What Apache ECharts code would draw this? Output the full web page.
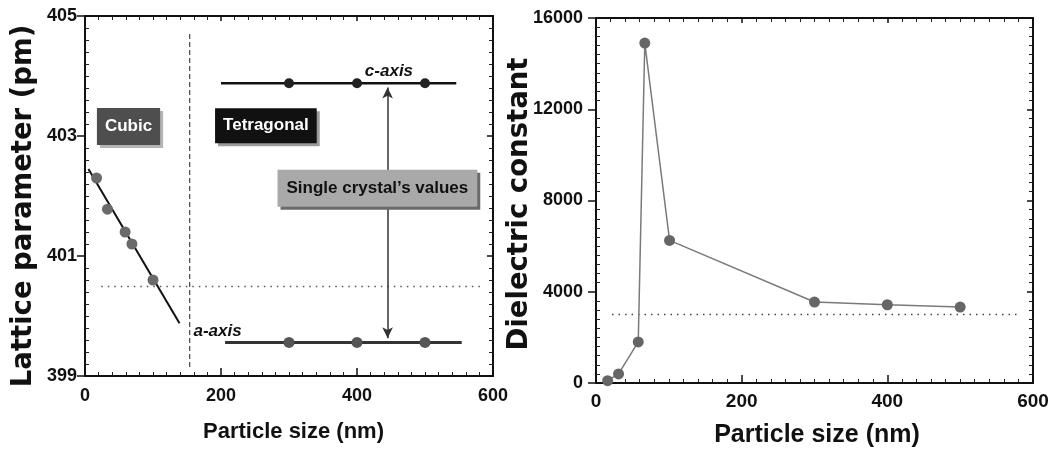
<!DOCTYPE html>
<html>
<head>
<meta charset="utf-8">
<script src="https://cdn.jsdelivr.net/npm/echarts@6/dist/echarts.min.js"></script>
<style>
html,body{margin:0;padding:0;background:#fff;}
#chart{width:1052px;height:455px;}
</style>
</head>
<body>
<div id="chart"></div>
<script>
// ---- data ----
const xTicks = [0, 200, 400, 600];
const latticeTicks = [399, 401, 403, 405];
const dielTicks = [0, 4000, 8000, 12000, 16000];

const cubicSize = [17, 33, 59, 69, 100];
const cubicLattice = [402.3, 401.78, 401.4, 401.2, 400.6];
const cubicFitSize = [5, 139];
const cubicFitLattice = [402.45, 399.88];

const tetraSize = [300, 400, 500];
const cAxisLattice = [403.88, 403.88, 403.88];
const aAxisLattice = [399.56, 399.56, 399.56];

const singleCrystalC = 403.88;
const singleCrystalA = 399.56;
const cLineSize = [200, 546];
const aLineSize = [206, 554];
const arrowSize = 445;

const phaseBoundarySize = 154;
const phaseBoundaryRange = [399.15, 404.75];
const cubicRefLattice = 400.49;
const cubicRefRange = [24, 585];

const dielSize = [16, 31, 58, 67, 101, 300, 400, 500];
const dielConst = [100, 400, 1800, 14900, 6250, 3550, 3430, 3330];
const dielRef = 3000;
const dielRefRange = [22, 580];

const boxLabels = ['Cubic', 'Tetragonal', 'Single crystal\u2019s values'];
const boxAnchorSize = [64, 266, 430];
const boxAnchorLattice = [403.16, 403.17, 402.13];
const axisLabels = ['c-axis', 'a-axis'];
const axisLabelSize = [447, 195];
const axisLabelLattice = [404.07, 399.74];

// ---- chart ----
const FS = '"Liberation Sans", Arial, sans-serif';
const FT = '"DejaVu Sans", sans-serif';

const pairs = (xs, ys) => xs.map((x, i) => [x, ys[i]]);

function xAxes(grid, labelSize, labelMargin, nameSize, nameGap, namePad) {
  return [
    {
      gridIndex: grid, type: 'value', position: 'bottom', min: xTicks[0], max: xTicks[xTicks.length - 1],
      interval: xTicks[1] - xTicks[0],
      axisLine: {show: true, onZero: false, lineStyle: {color: '#111', width: 2}},
      axisTick: {show: true, inside: true, length: 8, lineStyle: {color: '#111', width: 1.5}},
      minorTick: {show: true, splitNumber: 10, length: 4, lineStyle: {color: '#222', width: 1}},
      splitLine: {show: false},
      axisLabel: {show: true, margin: labelMargin, color: '#111', fontFamily: FS, fontWeight: 'bold', fontSize: labelSize},
      name: 'Particle size (nm)', nameLocation: 'middle', nameGap: nameGap, nameMoveOverlap: false,
      nameTextStyle: {fontFamily: FS, fontWeight: 'bold', fontSize: nameSize, color: '#111', padding: namePad}
    },
    {
      gridIndex: grid, type: 'value', position: 'top', min: xTicks[0], max: xTicks[xTicks.length - 1],
      interval: xTicks[1] - xTicks[0],
      axisLine: {show: true, onZero: false, lineStyle: {color: '#111', width: 2}},
      axisTick: {show: true, inside: true, length: 5, lineStyle: {color: '#111', width: 1.5}},
      minorTick: {show: true, splitNumber: 10, length: 4, lineStyle: {color: '#222', width: 1}},
      splitLine: {show: false}, axisLabel: {show: false}
    }
  ];
}

function yAxes(grid, ticks, labelSize, labelMargin, name, nameGap, namePad) {
  const base = {gridIndex: grid, type: 'value', min: ticks[0], max: ticks[ticks.length - 1], interval: ticks[1] - ticks[0], splitLine: {show: false}};
  return [
    Object.assign({}, base, {
      position: 'left',
      axisLine: {show: true, onZero: false, lineStyle: {color: '#111', width: 2}},
      axisTick: {show: true, inside: false, length: 8, lineStyle: {color: '#111', width: 1.5}},
      minorTick: {show: false},
      axisLabel: {show: true, margin: labelMargin, color: '#111', fontFamily: FS, fontWeight: 'bold', fontSize: labelSize,
        formatter: v => String(v)},
      name: name, nameLocation: 'middle', nameGap: nameGap, nameMoveOverlap: false,
      nameTextStyle: {fontFamily: FT, fontWeight: 'bold', fontSize: 27.5, color: '#111', padding: namePad}
    }),
    Object.assign({}, base, {
      position: 'left',
      axisLine: {show: false, onZero: false},
      axisTick: {show: false, inside: true},
      minorTick: {show: true, splitNumber: 10, length: 4, lineStyle: {color: '#222', width: 1}},
      axisLabel: {show: false}
    }),
    Object.assign({}, base, {
      position: 'right',
      axisLine: {show: true, onZero: false, lineStyle: {color: '#111', width: 2}},
      axisTick: {show: true, inside: true, length: 6, lineStyle: {color: '#111', width: 1.5}},
      minorTick: {show: true, splitNumber: 10, length: 4, lineStyle: {color: '#222', width: 1}},
      axisLabel: {show: false}
    })
  ];
}

function plainLine(data, color, width, type, xi, yi, z) {
  return {
    type: 'line', xAxisIndex: xi, yAxisIndex: yi, data: data, showSymbol: false, symbol: 'none',
    lineStyle: {color: color, width: width, type: type}, silent: true, z: z || 2
  };
}

function dots(data, color, size, xi, yi) {
  return {
    type: 'scatter', xAxisIndex: xi, yAxisIndex: yi, data: data, symbol: 'circle', symbolSize: size,
    itemStyle: {color: color, opacity: 1}, z: 5
  };
}

const boxStyles = [
  {bg: '#4e4e4e', color: '#fff', shadow: '#b5b5b5', pad: [10, 8, 10, 8]},
  {bg: '#111111', color: '#fff', shadow: '#9a9a9a', pad: [9, 8, 9, 8]},
  {bg: '#a9a9a9', color: '#111', shadow: '#6a6a6a', pad: [10, 9, 10, 9]}
];

const boxSeries = boxLabels.map((txt, i) => ({
  type: 'scatter', xAxisIndex: 0, yAxisIndex: 0, symbolSize: 0, itemStyle: {color: 'rgba(0,0,0,0)', opacity: 1},
  data: [[boxAnchorSize[i], boxAnchorLattice[i]]], z: 8, silent: true,
  label: {
    show: true, position: 'inside', formatter: txt,
    fontFamily: FS, fontWeight: 'bold', fontSize: 17, color: boxStyles[i].color,
    backgroundColor: boxStyles[i].bg, padding: boxStyles[i].pad,
    shadowColor: boxStyles[i].shadow, shadowOffsetX: 3, shadowOffsetY: 3, shadowBlur: 0
  }
}));

const axisLabelSeries = axisLabels.map((txt, i) => ({
  type: 'scatter', xAxisIndex: 0, yAxisIndex: 0, symbolSize: 0, itemStyle: {color: 'rgba(0,0,0,0)', opacity: 1},
  data: [[axisLabelSize[i], axisLabelLattice[i]]], z: 8, silent: true,
  label: {show: true, position: 'inside', formatter: txt, fontFamily: FS, fontWeight: 'bold', fontStyle: 'italic', fontSize: 17, color: '#111'}
}));

const option = {
  animation: false,
  backgroundColor: '#fff',
  grid: [
    {left: 85, top: 16, width: 408, height: 360},
    {left: 596, top: 18, width: 437, height: 365}
  ],
  xAxis: [].concat(
    xAxes(0, 18, 11, 22, 45, [0, 0, 0, 9]),
    xAxes(1, 19, 9, 25, 40, [0, 0, 0, 5])
  ),
  yAxis: [].concat(
    yAxes(0, latticeTicks, 18, 8, 'Lattice parameter (pm)', 47, [0, 20, 0, 0]),
    yAxes(1, dielTicks, 18, 13, 'Dielectric constant', 62, [0, 7, 0, 0])
  ),
  series: [
    // left panel
    plainLine([[phaseBoundarySize, phaseBoundaryRange[0]], [phaseBoundarySize, phaseBoundaryRange[1]]], '#222', 1, [5, 3], 0, 0),
    plainLine([[cubicRefRange[0], cubicRefLattice], [cubicRefRange[1], cubicRefLattice]], '#555', 1.5, [1.5, 5], 0, 0),
    plainLine(pairs(cubicFitSize, cubicFitLattice), '#111', 2, 'solid', 0, 0, 4),
    plainLine([[cLineSize[0], singleCrystalC], [cLineSize[1], singleCrystalC]], '#111', 2.5, 'solid', 0, 0),
    plainLine([[aLineSize[0], singleCrystalA], [aLineSize[1], singleCrystalA]], '#333', 3, 'solid', 0, 0),
    {
      type: 'line', xAxisIndex: 0, yAxisIndex: 0, data: [], silent: true,
      markLine: {
        silent: true, animation: false, symbol: ['arrow', 'arrow'], symbolSize: [8, 11],
        label: {show: false},
        lineStyle: {color: '#333', width: 1.5, type: 'solid'},
        emphasis: {disabled: true},
        data: [[{coord: [arrowSize, singleCrystalC - 0.07]}, {coord: [arrowSize, singleCrystalA + 0.07]}]]
      }
    },
    dots(pairs(cubicSize, cubicLattice), '#6a6a6a', 11, 0, 0),
    dots(pairs(tetraSize, cAxisLattice), '#222', 10, 0, 0),
    dots(pairs(tetraSize, aAxisLattice), '#555', 11, 0, 0),
    ...boxSeries,
    ...axisLabelSeries,
    // right panel
    plainLine([[dielRefRange[0], dielRef], [dielRefRange[1], dielRef]], '#444', 1.5, [1.5, 5], 2, 3),
    {
      type: 'line', xAxisIndex: 2, yAxisIndex: 3, data: pairs(dielSize, dielConst),
      symbol: 'circle', symbolSize: 11, showSymbol: true,
      lineStyle: {color: '#7a7a7a', width: 1.5},
      itemStyle: {color: '#666', borderWidth: 0}, z: 5
    }
  ]
};

const chart = echarts.init(document.getElementById('chart'), null, {renderer: 'canvas'});
chart.setOption(option);
</script>
</body>
</html>
